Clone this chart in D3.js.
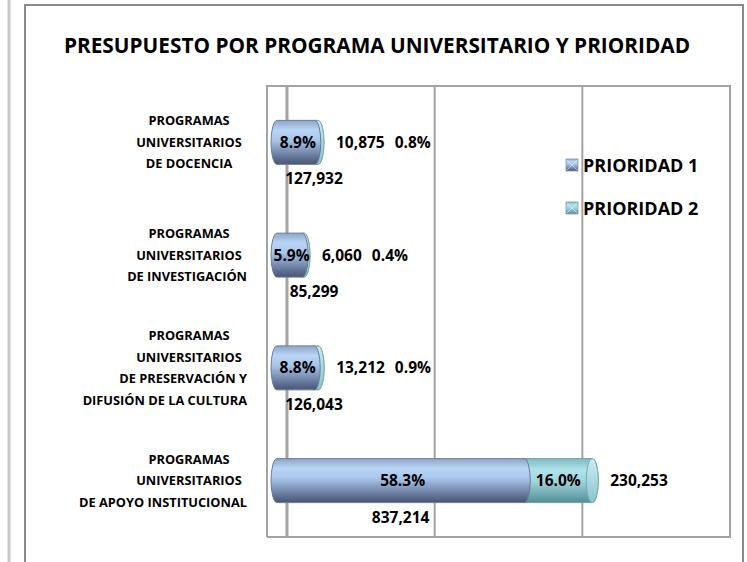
<!DOCTYPE html>
<html>
<head>
<meta charset="utf-8">
<script src="https://cdn.jsdelivr.net/npm/d3@7"></script>
<style>
  body { margin: 0; background: #fff; }
  text { font-family: "Open Sans", Lato, sans-serif; font-weight: bold; fill: #000; }
</style>
</head>
<body>
<div class="canvas"></div>
<script>
const categories = [
    ['PROGRAMAS', 'UNIVERSITARIOS', 'DE DOCENCIA'],
    ['PROGRAMAS', 'UNIVERSITARIOS', 'DE INVESTIGACIÓN'],
    ['PROGRAMAS', 'UNIVERSITARIOS', 'DE PRESERVACIÓN Y', 'DIFUSIÓN DE LA CULTURA'],
    ['PROGRAMAS', 'UNIVERSITARIOS', 'DE APOYO INSTITUCIONAL']
];
const prioridad1 = [127932, 85299, 126043, 837214];
const prioridad2 = [10875, 6060, 13212, 230253];
const seriesNames = ['PRIORIDAD 1', 'PRIORIDAD 2'];
const axisTicks = [0, 500000, 1000000, 1500000];
const title = 'PRESUPUESTO POR PROGRAMA UNIVERSITARIO Y PRIORIDAD';

const width = 747, height = 562;
const total = d3.sum(prioridad1) + d3.sum(prioridad2);
const pct = d3.format('.1%');
const num = d3.format(',');

const svg = d3.select('.canvas')
    .append('svg')
    .attr('width', width)
    .attr('height', height);

const defs = svg.append('defs');
function grad(id, stops) {
    const g = defs.append('linearGradient').attr('id', id)
        .attr('x1', 0).attr('y1', 0).attr('x2', 0).attr('y2', 1);
    stops.forEach(s => g.append('stop').attr('offset', s[0]).attr('stop-color', s[1]));
}
grad('g1', [[0, '#8ea6c8'], [0.22, '#b9d5f6'], [0.45, '#a8c4ea'], [1, '#465474']]);
grad('g2', [[0, '#7fb9c2'], [0.25, '#aee3ea'], [0.5, '#a0d8e0'], [1, '#578c94']]);
grad('gcap', [[0, '#c8eef3'], [1, '#8cc3cb']]);

// page border lines
svg.append('line').attr('x1', 9).attr('x2', 9).attr('y1', 0).attr('y2', height)
    .attr('stroke', '#c8c8c8').attr('stroke-width', 3);
svg.append('path').attr('d', `M25,${height}V5H743V${height}`)
    .attr('fill', 'none').attr('stroke', '#8a8a8a').attr('stroke-width', 2);

svg.append('text')
    .attr('x', 377).attr('y', 53)
    .attr('text-anchor', 'middle')
    .style('font-size', '20.8px')
    .text(title);

// plot area
const x = d3.scaleLinear().domain([0, 1500000]).range([287, 730]);
const y = d3.scaleBand().domain(d3.range(categories.length)).range([86, 537]).paddingInner(0.61).paddingOuter(0.305);
const depth = 10, capRx = 6;
const bx = v => x(v) - depth;

const grid = svg.append('g').attr('stroke', '#a3a3a3').attr('fill', 'none');
grid.append('path').attr('d', `M267,537V86H730V537H267`).attr('stroke-width', 2);
grid.selectAll('.grid').data(axisTicks).enter()
    .append('line').attr('class', 'grid')
    .attr('x1', d => x(d)).attr('x2', d => x(d))
    .attr('y1', 86).attr('y2', 537)
    .attr('stroke-width', d => d === 0 ? 3 : 2);

// category labels, centred but kept clear of the plot
categories.forEach((lines, c) => {
    const t = svg.append('text').attr('class', 'cat')
        .attr('text-anchor', 'middle')
        .style('font-size', '12.8px');
    lines.forEach((line, i) => {
        const s = t.append('tspan')
            .attr('y', y(c) + y.bandwidth() / 2 + (i - (lines.length - 1) / 2) * 21.5 + 4.5)
            .text(line);
        const w = s.node().getComputedTextLength();
        s.attr('x', Math.min(189, 247 - w / 2));
    });
});

// bars
const bars = svg.selectAll('.bar').data(d3.range(categories.length)).enter()
    .append('g').attr('class', 'bar');

bars.append('rect')
    .attr('x', i => bx(prioridad1[i]) - capRx)
    .attr('y', i => y(i))
    .attr('width', i => bx(prioridad1[i] + prioridad2[i]) - bx(prioridad1[i]) + 2 * capRx)
    .attr('height', y.bandwidth())
    .attr('rx', capRx).attr('ry', y.bandwidth() / 2)
    .attr('fill', 'url(#g2)').attr('stroke', '#6f9ea6').attr('stroke-width', 1);

bars.append('ellipse')
    .attr('cx', i => bx(prioridad1[i] + prioridad2[i]))
    .attr('cy', i => y(i) + y.bandwidth() / 2)
    .attr('rx', capRx).attr('ry', y.bandwidth() / 2)
    .attr('fill', 'url(#gcap)').attr('stroke', '#7aaab2').attr('stroke-width', 1);

bars.append('rect')
    .attr('x', bx(0) - capRx)
    .attr('y', i => y(i))
    .attr('width', i => bx(prioridad1[i]) - bx(0) + 2 * capRx)
    .attr('height', y.bandwidth())
    .attr('rx', capRx).attr('ry', y.bandwidth() / 2)
    .attr('fill', 'url(#g1)').attr('stroke', '#6a7a98').attr('stroke-width', 1);

// data labels
const fs = '15.5px';
bars.append('text')
    .attr('x', i => (bx(0) + bx(prioridad1[i])) / 2 + 2)
    .attr('y', i => y(i) + y.bandwidth() / 2 + 5.5)
    .attr('text-anchor', 'middle')
    .style('font-size', fs)
    .text(i => pct(prioridad1[i] / total));

bars.append('text')
    .attr('x', i => Math.max((bx(0) + bx(prioridad1[i])) / 2, bx(0) + 37))
    .attr('y', i => y(i) + y.bandwidth() + 20)
    .attr('text-anchor', 'middle')
    .style('font-size', fs)
    .text(i => num(prioridad1[i]));

const v2 = bars.append('text')
    .attr('x', i => bx(prioridad1[i] + prioridad2[i]) + capRx + 12)
    .attr('y', i => y(i) + y.bandwidth() / 2 + 5.5)
    .style('font-size', fs)
    .text(i => num(prioridad2[i]));

const wide = i => bx(prioridad1[i] + prioridad2[i]) - bx(prioridad1[i]) > 40;
bars.append('text')
    .attr('x', i => {
        if (wide(i)) return (bx(prioridad1[i]) + bx(prioridad1[i] + prioridad2[i])) / 2;
        const t = v2.nodes()[i];
        return +t.getAttribute('x') + t.getComputedTextLength() + 10;
    })
    .attr('y', i => y(i) + y.bandwidth() / 2 + 5.5)
    .attr('text-anchor', i => wide(i) ? 'middle' : 'start')
    .style('font-size', fs)
    .text(i => pct(prioridad2[i] / total));

// legend
const legend = svg.selectAll('.legend').data(seriesNames).enter()
    .append('g').attr('class', 'legend')
    .attr('transform', (d, i) => `translate(566, ${165 + i * 43})`);
legend.append('rect')
    .attr('x', 0).attr('y', -6).attr('width', 12).attr('height', 12)
    .attr('fill', (d, i) => i === 0 ? 'url(#g1)' : 'url(#g2)')
    .attr('stroke', '#8a9ab0').attr('stroke-width', 0.8);
legend.append('path')
    .attr('d', 'M1,-5L11,5M11,-5L1,5')
    .attr('stroke', '#eef4fb').attr('stroke-width', 0.8).attr('opacity', 0.7);
legend.append('text')
    .attr('x', 17).attr('y', 6.5)
    .style('font-size', '18px')
    .text(d => d);
</script>
</body>
</html>
